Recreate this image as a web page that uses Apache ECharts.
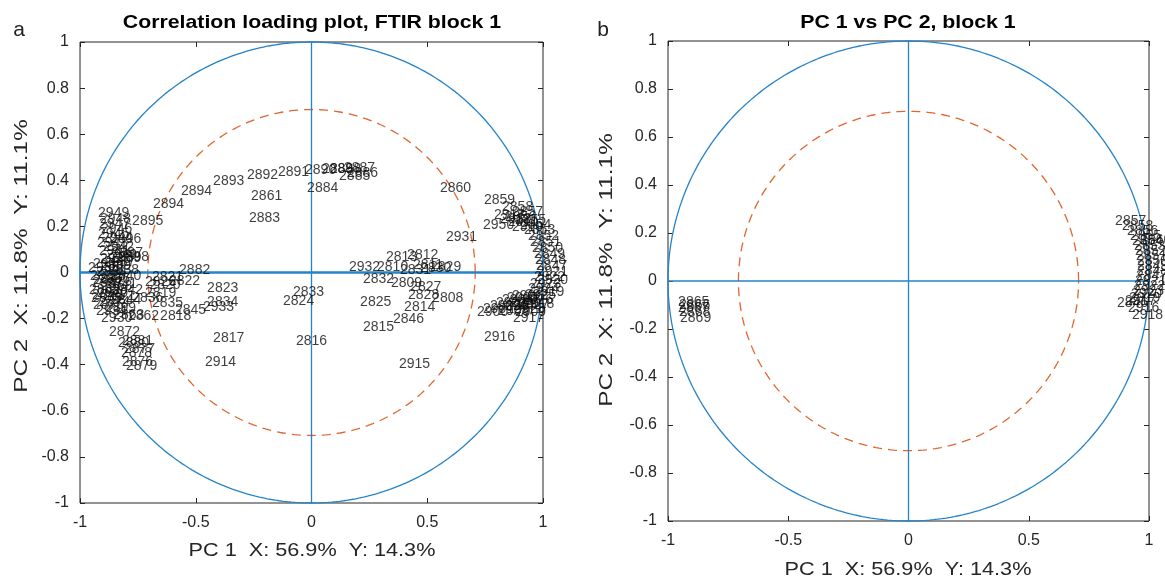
<!DOCTYPE html>
<html>
<head>
<meta charset="utf-8">
<script src="https://cdn.jsdelivr.net/npm/echarts@6/dist/echarts.min.js"></script>
<style>
  html, body { margin: 0; padding: 0; background: #ffffff; }
  #chart { width: 1165px; height: 581px; }
</style>
</head>
<body>
<div id="chart"></div>
<script>
// Axis ticks
const xTickLabels = ['-1', '-0.5', '0', '0.5', '1'];
const yTickLabels = ['-1', '-0.8', '-0.6', '-0.4', '-0.2', '0', '0.2', '0.4', '0.6', '0.8', '1'];

// Panel a: correlation loadings, [wavenumber, PC1, PC2]
const upperArcLoadings = [
  ['2894', -0.685, 0.297], ['2894', -0.564, 0.354], ['2893', -0.425, 0.397],
  ['2892', -0.279, 0.423], ['2891', -0.145, 0.436], ['2890', -0.028, 0.445],
  ['2889', 0.045, 0.449], ['2888', 0.080, 0.449], ['2887', 0.140, 0.453],
  ['2886', 0.153, 0.432], ['2885', 0.119, 0.419], ['2884', -0.019, 0.367],
  ['2883', -0.270, 0.236], ['2895', -0.775, 0.223], ['2896', -0.870, 0.145]
];
const middleLoadings = [
  ['2808', 0.521, -0.111], ['2809', 0.343, -0.046], ['2810', 0.283, 0.024],
  ['2811', 0.438, 0.033], ['2812', 0.413, 0.076], ['2813', 0.322, 0.067],
  ['2814', 0.400, -0.150], ['2815', 0.222, -0.236], ['2816', -0.067, -0.297],
  ['2817', -0.425, -0.284], ['2818', -0.654, -0.189], ['2819', -0.719, -0.089],
  ['2820', -0.700, -0.055], ['2821', -0.689, -0.020], ['2822', -0.616, -0.037],
  ['2823', -0.451, -0.067], ['2824', -0.123, -0.124], ['2825', 0.210, -0.128],
  ['2826', -0.719, -0.041], ['2827', 0.426, -0.063], ['2828', 0.417, -0.098],
  ['2829', 0.512, 0.024], ['2830', 0.469, 0.020], ['2831', 0.382, 0.011],
  ['2832', 0.222, -0.028], ['2833', -0.080, -0.085], ['2834', -0.451, -0.128],
  ['2835', -0.689, -0.132], ['2836', -0.775, -0.111], ['2845', -0.590, -0.163],
  ['2846', 0.352, -0.202], ['2860', 0.555, 0.367], ['2861', -0.261, 0.332],
  ['2882', -0.572, 0.011], ['2914', -0.460, -0.388], ['2915', 0.378, -0.397],
  ['2916', 0.745, -0.280], ['2931', 0.581, 0.154], ['2932', 0.162, 0.024],
  ['2933', -0.469, -0.150]
];
const rightArcLoadings = [
  ['2859', 0.745, 0.315], ['2858', 0.823, 0.284], ['2857', 0.866, 0.262],
  ['2950', 0.741, 0.206], ['2856', 0.836, 0.241], ['2855', 0.879, 0.228],
  ['2854', 0.901, 0.206], ['2853', 0.918, 0.184], ['2852', 0.935, 0.158],
  ['2851', 0.944, 0.132], ['2850', 0.952, 0.106], ['2849', 0.961, 0.080],
  ['2848', 0.965, 0.054], ['2847', 0.970, 0.028], ['2921', 0.974, 0.002],
  ['2922', 0.961, -0.020], ['2923', 0.944, -0.050], ['2924', 0.935, -0.072],
  ['2925', 0.922, -0.098], ['2926', 0.909, -0.119], ['2927', 0.892, -0.141],
  ['2928', 0.875, -0.158], ['2929', 0.858, -0.132], ['2913', 0.788, 0.249],
  ['2912', 0.814, 0.232], ['2911', 0.849, 0.219], ['2910', 0.866, 0.197]
];
const rightBandLoadings = [
  ['2900', 0.715, -0.171], ['2901', 0.741, -0.158], ['2902', 0.771, -0.145],
  ['2903', 0.797, -0.132], ['2904', 0.823, -0.119], ['2905', 0.845, -0.111],
  ['2906', 0.866, -0.102], ['2907', 0.836, -0.145], ['2908', 0.806, -0.167],
  ['2909', 0.879, -0.171], ['2917', 0.870, -0.197], ['2918', 0.914, -0.137],
  ['2919', 0.957, -0.085], ['2920', 0.974, -0.033]
];
const leftColumnLoadings = [
  ['2949', -0.922, 0.258], ['2948', -0.914, 0.232], ['2947', -0.918, 0.210],
  ['2946', -0.909, 0.189], ['2945', -0.922, 0.167], ['2944', -0.905, 0.150],
  ['2943', -0.927, 0.128], ['2942', -0.901, 0.111], ['2941', -0.918, 0.093],
  ['2897', -0.862, 0.085], ['2940', -0.888, 0.076], ['2898', -0.836, 0.067],
  ['2939', -0.870, 0.063], ['2938', -0.914, 0.059], ['2937', -0.896, 0.046]
];
const leftBlobLoadings = [
  ['2936', -0.944, 0.037], ['2839', -0.914, 0.028], ['2935', -0.965, 0.020],
  ['2838', -0.879, 0.011], ['2864', -0.931, 0.002], ['2840', -0.870, -0.015],
  ['2865', -0.957, -0.015], ['2866', -0.918, -0.028], ['2837', -0.944, -0.033],
  ['2867', -0.948, -0.046], ['2841', -0.888, -0.050], ['2868', -0.909, -0.059],
  ['2869', -0.961, -0.076], ['2842', -0.862, -0.076], ['2870', -0.927, -0.089],
  ['2843', -0.948, -0.098], ['2871', -0.896, -0.102], ['2873', -0.953, -0.111],
  ['2844', -0.870, -0.119], ['2874', -0.918, -0.128], ['2875', -0.944, -0.141],
  ['2899', -0.892, -0.154], ['2934', -0.931, -0.167], ['2930', -0.909, -0.197],
  ['2863', -0.857, -0.184], ['2862', -0.793, -0.189]
];
const lowerLeftLoadings = [
  ['2872', -0.875, -0.258], ['2881', -0.819, -0.297], ['2880', -0.836, -0.306],
  ['2877', -0.810, -0.332], ['2878', -0.823, -0.349], ['2876', -0.819, -0.388],
  ['2879', -0.801, -0.406]
];

// Panel b: block 1 scores, [sample, PC1, PC2]
const scoresRightGroup = [
  ['2857', 0.859, 0.250], ['2858', 0.888, 0.229], ['2856', 0.909, 0.208],
  ['2855', 0.921, 0.188], ['2860', 0.963, 0.171], ['2854', 0.929, 0.167],
  ['2853', 0.938, 0.146], ['2852', 0.942, 0.125], ['2851', 0.946, 0.104],
  ['2850', 0.950, 0.083], ['2849', 0.950, 0.063], ['2848', 0.950, 0.042],
  ['2847', 0.946, 0.021], ['2921', 0.942, 0.000], ['2922', 0.938, -0.021],
  ['2923', 0.933, -0.042], ['2920', 0.925, -0.054], ['2919', 0.917, -0.071],
  ['2917', 0.900, -0.083], ['2846', 0.867, -0.092], ['2916', 0.913, -0.113],
  ['2918', 0.929, -0.142]
];
const scoresLeftGroup = [
  ['2865', -0.958, -0.088], ['2866', -0.954, -0.100], ['2867', -0.958, -0.113],
  ['2868', -0.954, -0.129], ['2869', -0.950, -0.154]
];

const FONT = '"Liberation Sans", Arial, sans-serif';
const INK = '#262626';
const BLUE = '#2483c9';
const ORANGE = '#e0662f';

// Reference circles drawn through the axes
function circlePoints(r) {
  const pts = [];
  for (let i = 0; i <= 360; i++) {
    const a = i * Math.PI / 180;
    pts.push([r * Math.cos(a), r * Math.sin(a)]);
  }
  return pts;
}

function axesFor(gi) {
  const tick = { inside: true, length: 5, lineStyle: { color: INK, width: 1 } };
  const line = { show: false, onZero: false };
  const label = { color: INK, fontSize: 16, fontFamily: FONT, margin: 11 };
  return {
    x: [
      { gridIndex: gi, type: 'value', min: -1, max: 1, interval: 0.5, position: 'bottom',
        axisLine: line, axisTick: tick, splitLine: { show: false },
        axisLabel: Object.assign({}, label, { margin: 12, formatter: (v, i) => xTickLabels[i] }) },
      { gridIndex: gi, type: 'value', min: -1, max: 1, interval: 0.5, position: 'top',
        axisLine: line, axisTick: tick, splitLine: { show: false },
        axisLabel: { show: false } }
    ],
    y: [
      { gridIndex: gi, type: 'value', min: -1, max: 1, interval: 0.2, position: 'left',
        axisLine: line, axisTick: tick, splitLine: { show: false },
        axisLabel: Object.assign({}, label, { formatter: (v, i) => yTickLabels[i] }) },
      { gridIndex: gi, type: 'value', min: -1, max: 1, interval: 0.2, position: 'right',
        axisLine: line, axisTick: tick, splitLine: { show: false },
        axisLabel: { show: false } }
    ]
  };
}

const ax0 = axesFor(0);
const ax1 = axesFor(1);

function lineSeries(axis, data, color, width, type) {
  return {
    type: 'line', xAxisIndex: axis, yAxisIndex: axis, data: data,
    showSymbol: false, silent: true, clip: false, z: 2,
    lineStyle: { color: color, width: width, type: type || 'solid' }
  };
}

function labelSeries(axis, rows) {
  return {
    type: 'scatter', xAxisIndex: axis, yAxisIndex: axis,
    data: rows.map(r => ({ name: r[0], value: [r[1], r[2]] })),
    symbolSize: 0.01, itemStyle: { color: 'transparent' },
    silent: true, clip: false, z: 5,
    label: { show: true, position: 'right', distance: 0, formatter: '{b}',
             color: '#0d0d0d', fontSize: 14, fontFamily: FONT }
  };
}

// xAxis/yAxis index layout: 0 bottom/left a, 1 top/right a, 2 bottom/left b, 3 top/right b
const series = [
  lineSeries(0, circlePoints(1), BLUE, 1.3),
  lineSeries(0, circlePoints(Math.SQRT1_2), ORANGE, 1.3, [9, 6]),
  lineSeries(0, [[-1, 0], [1, 0]], BLUE, 2.6),
  lineSeries(0, [[0, -1], [0, 1]], BLUE, 1.3),
  labelSeries(0, upperArcLoadings),
  labelSeries(0, middleLoadings),
  labelSeries(0, rightArcLoadings),
  labelSeries(0, rightBandLoadings),
  labelSeries(0, leftColumnLoadings),
  labelSeries(0, leftBlobLoadings),
  labelSeries(0, lowerLeftLoadings),
  lineSeries(2, circlePoints(1), BLUE, 1.3),
  lineSeries(2, circlePoints(Math.SQRT1_2), ORANGE, 1.3, [9, 6]),
  lineSeries(2, [[-1, 0], [1, 0]], BLUE, 1.3),
  lineSeries(2, [[0, -1], [0, 1]], BLUE, 1.3),
  labelSeries(2, scoresRightGroup),
  labelSeries(2, scoresLeftGroup)
];

function txt(x, y, text, opts) {
  opts = opts || {};
  return {
    type: 'text', x: x, y: y, rotation: opts.rotation || 0,
    scaleX: opts.scaleX || 1, silent: true, z: 10,
    style: {
      text: text, fill: opts.fill || '#000',
      fontSize: opts.size || 19, fontWeight: opts.weight || 'normal', fontFamily: FONT,
      align: 'center', verticalAlign: 'middle'
    }
  };
}

const chart = echarts.init(document.getElementById('chart'), null, { renderer: 'canvas' });
chart.setOption({
  animation: false,
  backgroundColor: '#ffffff',
  grid: [
    { left: 80, top: 42, width: 463, height: 461, show: true, borderColor: INK, borderWidth: 1, backgroundColor: 'transparent' },
    { left: 668, top: 41, width: 481, height: 480, show: true, borderColor: INK, borderWidth: 1, backgroundColor: 'transparent' }
  ],
  xAxis: [ax0.x[0], ax0.x[1], ax1.x[0], ax1.x[1]],
  yAxis: [ax0.y[0], ax0.y[1], ax1.y[0], ax1.y[1]],
  series: series,
  graphic: [
    txt(19, 30, 'a', { size: 21, fill: '#222' }),
    txt(603, 30, 'b', { size: 21, fill: '#222' }),
    txt(312, 23, 'Correlation loading plot, FTIR block 1', { weight: 'bold', size: 19, scaleX: 1.12 }),
    txt(908, 23, 'PC 1 vs PC 2, block 1', { weight: 'bold', size: 19, scaleX: 1.12 }),
    txt(312, 551, 'PC 1  X: 56.9%  Y: 14.3%', { size: 19, scaleX: 1.14, fill: INK }),
    txt(908, 570, 'PC 1  X: 56.9%  Y: 14.3%', { size: 19, scaleX: 1.14, fill: INK }),
    txt(22, 256, 'PC 2  X: 11.8%  Y: 11.1%', { size: 19, scaleX: 1.28, rotation: Math.PI / 2, fill: INK }),
    txt(607, 270, 'PC 2  X: 11.8%  Y: 11.1%', { size: 19, scaleX: 1.28, rotation: Math.PI / 2, fill: INK })
  ]
});
</script>
</body>
</html>
